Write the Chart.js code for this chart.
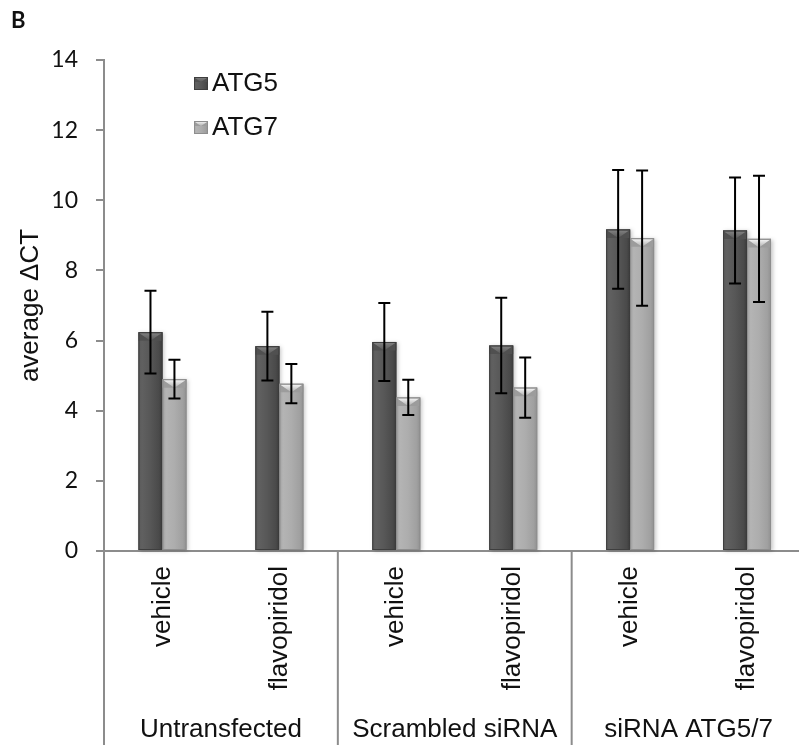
<!DOCTYPE html>
<html>
<head>
<meta charset="utf-8">
<script src="https://cdn.jsdelivr.net/npm/chart.js@4/dist/chart.umd.min.js"></script>
<style>
html,body{margin:0;padding:0;overflow:hidden;background:#fff;}
#wrap{position:relative;width:820px;height:748px;}
</style>
</head>
<body>
<div id="wrap"><canvas id="c"></canvas></div>
<script>
// ---- data ----
const categories = ['vehicle', 'flavopiridol', 'vehicle', 'flavopiridol', 'vehicle', 'flavopiridol'];
const groups = ['Untransfected', 'Scrambled siRNA', 'siRNA ATG5/7'];
const groupSize = 2;
const seriesNames = ['ATG5', 'ATG7'];
const atg5 = [6.24, 5.84, 5.96, 5.86, 9.17, 9.14];
const atg7 = [4.90, 4.77, 4.38, 4.66, 8.92, 8.90];
const atg5Err = [1.18, 0.98, 1.11, 1.36, 1.69, 1.51];
const atg7Err = [0.55, 0.56, 0.50, 0.86, 1.93, 1.80];
const yTicks = [0, 2, 4, 6, 8, 10, 12, 14];
const yTitle = 'average \u0394CT';
const panelLetter = 'B';

// ---- styling ----
const GRAY = '#8c8c8c';
const TXT = '#111';
const ARIAL = '"Liberation Sans", Arial, sans-serif';
const CAL = 'Lato, "Open Sans", sans-serif';
const errors = [atg5Err, atg7Err];
const palettes = [
  {base:'#555555', stops:['#5a5a5a','#606060','#575757','#4a4a4a','#3c3c3c'], tri:'#858585', side:'#505050', edge:'#3e3e3e'},
  {base:'#a8a8a8', stops:['#a0a0a0','#b4b4b4','#adadad','#a0a0a0','#909090'], tri:'#fbfbfb', side:'#9c9c9c', edge:'#8e8e8e'}
];

function paintBar(c, L, T, w, H, p, shadow) {
  const R = L + w;
  c.save();
  if (shadow) {
    c.shadowColor = 'rgba(0,0,0,0.22)';
    c.shadowBlur = 4; c.shadowOffsetX = 2; c.shadowOffsetY = 1;
  }
  const g = c.createLinearGradient(L, 0, R, 0);
  [0, 0.15, 0.5, 0.85, 1].forEach((s, i) => g.addColorStop(s, p.stops[i]));
  c.fillStyle = g;
  c.fillRect(L, T, w, H);
  c.restore();
  const h = Math.min(w * 0.36, H / 2);
  const mid = L + w / 2;
  c.save();
  c.fillStyle = p.side;
  c.beginPath(); c.moveTo(L, T); c.lineTo(mid, T + h); c.lineTo(L, T + h); c.closePath(); c.fill();
  c.beginPath(); c.moveTo(R, T); c.lineTo(mid, T + h); c.lineTo(R, T + h); c.closePath(); c.fill();
  const tg = c.createLinearGradient(0, T, 0, T + h);
  tg.addColorStop(0, p.tri); tg.addColorStop(1, p.stops[2]);
  c.fillStyle = tg;
  c.beginPath(); c.moveTo(L + 1, T + 1); c.lineTo(R - 1, T + 1); c.lineTo(mid, T + h); c.closePath(); c.fill();
  c.strokeStyle = p.edge;
  c.lineWidth = 1;
  c.strokeRect(L + 0.5, T + 0.5, w - 1, H - 1);
  c.restore();
}

const decoPlugin = {
  id: 'deco',
  afterDatasetsDraw(chart) {
    const c = chart.ctx;
    const ys = chart.scales.y;
    chart.data.datasets.forEach((ds, di) => {
      const meta = chart.getDatasetMeta(di);
      meta.data.forEach(el => {
        const {x, y, base, width} = el.getProps(['x', 'y', 'base', 'width'], true);
        paintBar(c, x - width / 2, y, width, base - y, palettes[di], true);
      });
    });
    c.save();
    c.strokeStyle = '#000';
    c.lineWidth = 2;
    chart.data.datasets.forEach((ds, di) => {
      const meta = chart.getDatasetMeta(di);
      meta.data.forEach((el, i) => {
        const v = ds.data[i], e = errors[di][i];
        const x = el.x;
        const yt = ys.getPixelForValue(v + e), yb = ys.getPixelForValue(v - e);
        c.beginPath();
        c.moveTo(x, yt); c.lineTo(x, yb);
        c.moveTo(x - 6, yt); c.lineTo(x + 6, yt);
        c.moveTo(x - 6, yb); c.lineTo(x + 6, yb);
        c.stroke();
      });
    });
    c.restore();
  },
  afterDraw(chart) {
    const c = chart.ctx;
    const xs = chart.scales.x;
    const area = chart.chartArea;
    const step = xs.getPixelForValue(1) - xs.getPixelForValue(0);
    c.save();
    c.strokeStyle = GRAY;
    c.lineWidth = 2;
    const bounds = [];
    for (let g = 0; g <= groups.length; g++) {
      bounds.push(xs.getPixelForValue(g * groupSize) - step / 2);
    }
    bounds.forEach(bx => {
      c.beginPath(); c.moveTo(bx, area.bottom); c.lineTo(bx, 745); c.stroke();
    });
    c.fillStyle = TXT;
    c.font = '26px ' + ARIAL;
    c.textAlign = 'center';
    c.textBaseline = 'alphabetic';
    groups.forEach((gname, g) => {
      c.fillText(gname, (bounds[g] + bounds[g + 1]) / 2, 737);
    });
    chart.data.datasets.forEach((ds, di) => {
      const sy = 77 + di * 44;
      paintBar(c, 194, sy, 14, 13, palettes[di], false);
      c.fillStyle = TXT;
      c.textAlign = 'left';
      c.textBaseline = 'middle';
      c.font = '26px ' + ARIAL;
      c.fillText(ds.label, 212, sy + 7);
    });
    c.font = 'bold 22px ' + CAL;
    c.textAlign = 'left';
    c.textBaseline = 'top';
    c.fillText(panelLetter, 11, 10);
    c.restore();
  }
};

new Chart(document.getElementById('c'), {
  type: 'bar',
  data: {
    labels: categories,
    datasets: [
      {label: seriesNames[0], data: atg5, backgroundColor: palettes[0].base, borderWidth: 0},
      {label: seriesNames[1], data: atg7, backgroundColor: palettes[1].base, borderWidth: 0}
    ]
  },
  options: {
    responsive: true,
    maintainAspectRatio: false,
    animation: false,
    events: [],
    layout: {padding: {left: 0, right: 14.5, top: 60, bottom: 0}},
    datasets: {bar: {categoryPercentage: 0.41, barPercentage: 1.0}},
    plugins: {legend: {display: false}, tooltip: {enabled: false}, title: {display: false}},
    scales: {
      x: {
        z: 1,
        grid: {display: true, drawOnChartArea: false, drawTicks: false},
        border: {display: true, color: GRAY, width: 2},
        ticks: {
          color: TXT,
          font: {family: ARIAL, size: 26},
          minRotation: 90, maxRotation: 90,
          autoSkip: false,
          padding: 15
        },
        afterFit(s) { s.height = 197; }
      },
      y: {
        min: 0, max: 14,
        afterBuildTicks(s) { s.ticks = yTicks.map(v => ({value: v})); },
        grid: {display: true, drawOnChartArea: false, drawTicks: true, tickLength: 8, color: GRAY, lineWidth: 2},
        border: {display: true, color: GRAY, width: 2},
        ticks: {color: TXT, font: {family: CAL, size: 23}, padding: 18},
        title: {
          display: true, text: yTitle, color: TXT,
          font: {family: ARIAL, size: 26},
          padding: {top: 15, bottom: 0}
        },
        afterFit(s) { s.width = 104; }
      }
    }
  },
  plugins: [decoPlugin]
});
</script>
</body>
</html>
